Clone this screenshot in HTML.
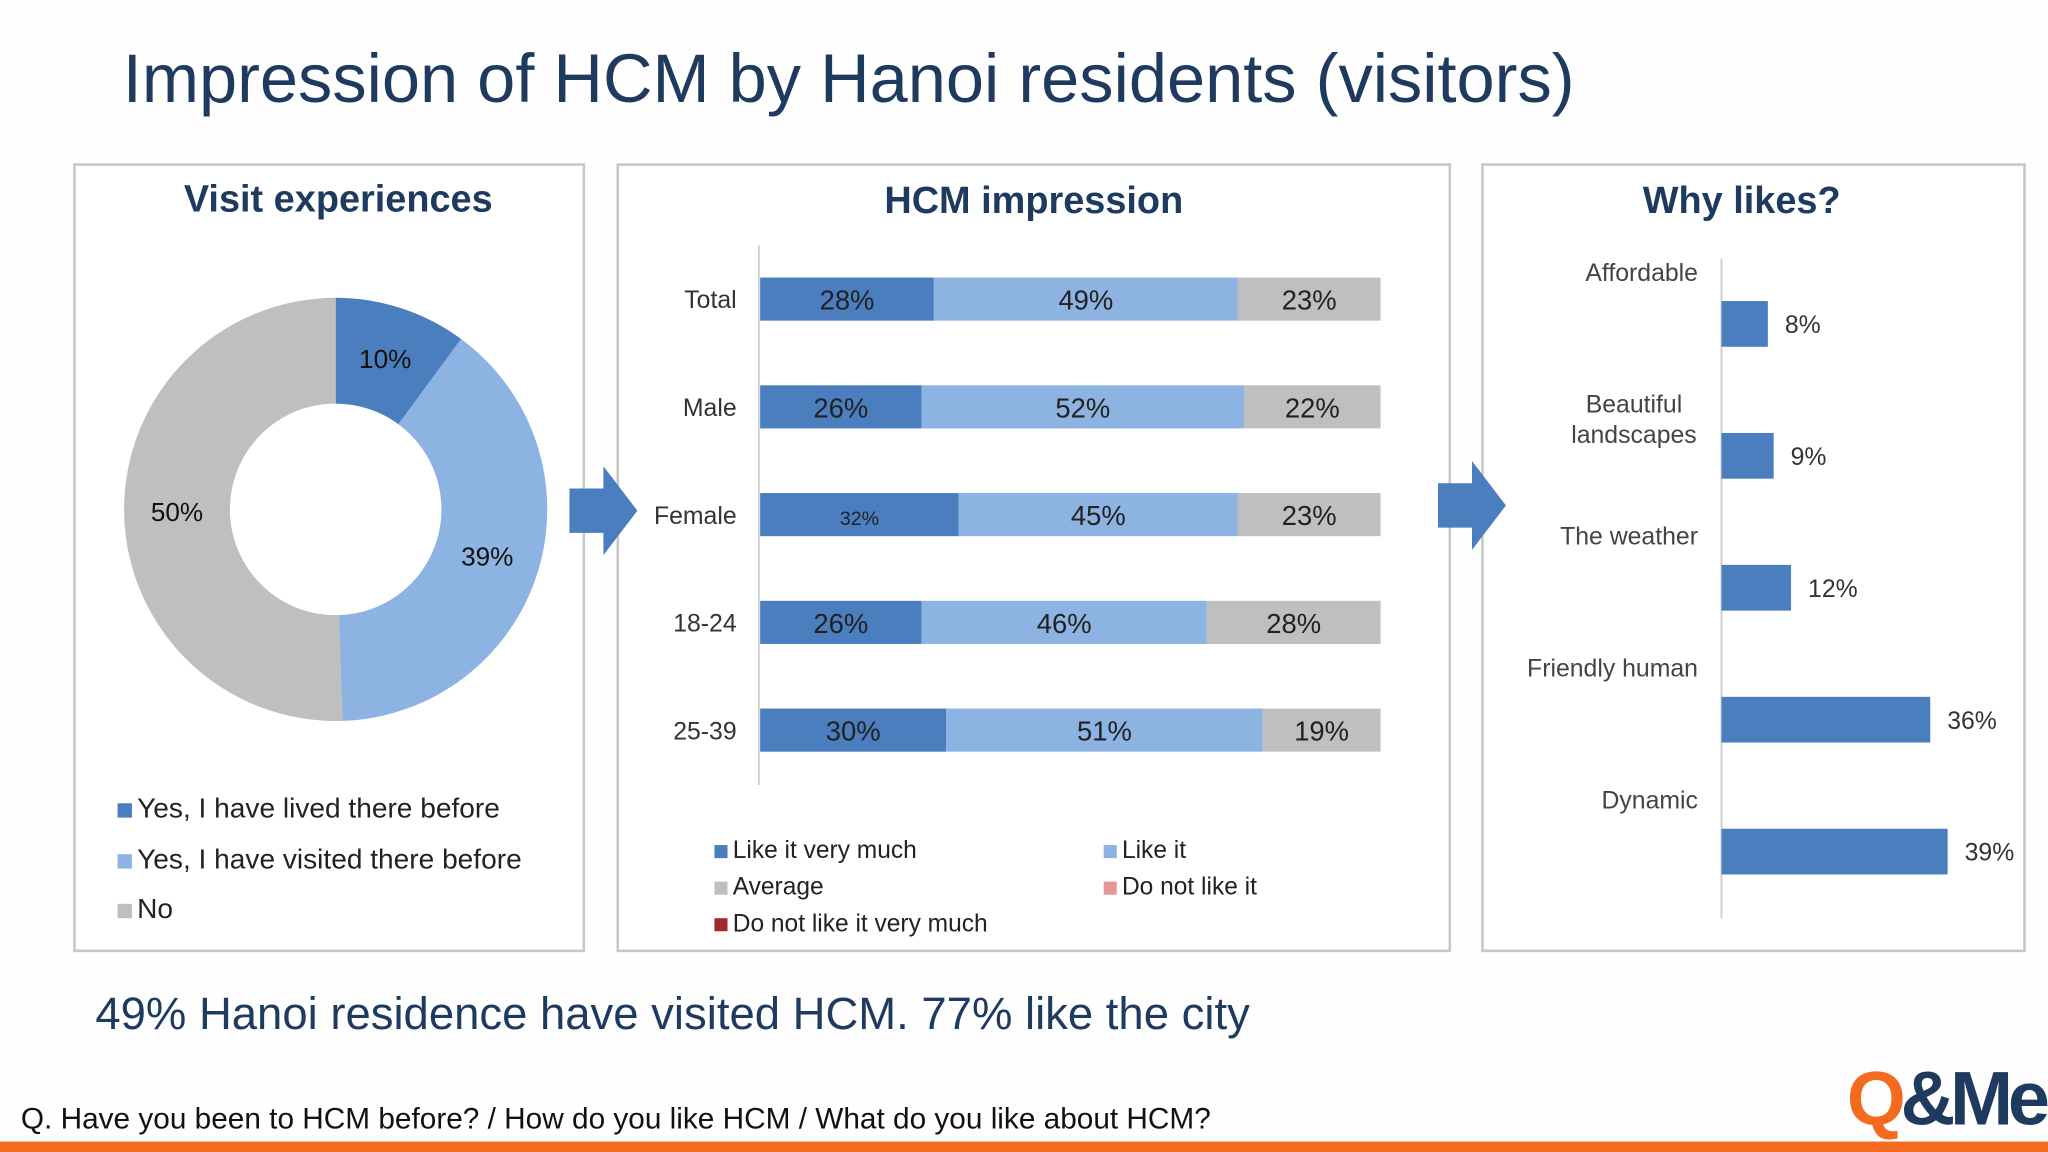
<!DOCTYPE html>
<html><head><meta charset="utf-8"><style>
body{margin:0;width:2048px;height:1152px;overflow:hidden;background:#fff;}
#s{position:absolute;left:0;top:0;width:1568px;height:882px;transform:scale(1.306122);transform-origin:0 0;font-family:"Liberation Sans",sans-serif;background:#fefefe;}
.abs{position:absolute;}
.panel{position:absolute;border:2px solid #c8c8c8;box-sizing:border-box;background:#fff;}
.pt{position:absolute;left:0;right:0;text-align:center;font-weight:bold;font-size:29px;color:#1f3a5f;}
</style></head><body><div id="s">
<div class="abs" style="left:94px;top:30px;font-size:52.5px;color:#1f3a5f;">Impression of HCM by Hanoi residents (visitors)</div>

<div class="panel" style="left:56px;top:125px;width:392px;height:604px;"><div class="pt" style="top:10px;padding-left:14px">Visit experiences</div></div>
<div class="panel" style="left:472px;top:125px;width:639px;height:604px;"><div class="pt" style="top:11px">HCM impression</div></div>
<div class="panel" style="left:1134px;top:125px;width:417px;height:604px;"><div class="pt" style="top:11px;padding-right:18px">Why likes?</div></div>

<svg class="abs" style="left:0;top:0" width="1568" height="882" id="svg">
<polygon points="436,374 462,374 462,357 488,391 462,425 462,408 436,408" fill="#4a7ebf"/>
<polygon points="1101,370 1127,370 1127,353 1153,387 1127,421 1127,404 1101,404" fill="#4a7ebf"/>
<g id="donut"></g><g id="bars"></g><g id="likes"></g>
</svg>

<div class="abs" style="left:90px;top:600px;font-size:21.5px;color:#222;line-height:38.5px;">
<div><span style="display:inline-block;width:11px;height:11px;background:#4a7ebf;margin-right:4px"></span>Yes, I have lived there before</div>
<div><span style="display:inline-block;width:11px;height:11px;background:#8db3e2;margin-right:4px"></span>Yes, I have visited there before</div>
<div><span style="display:inline-block;width:11px;height:11px;background:#bfbfbf;margin-right:4px"></span>No</div>
</div>
<div class="abs" style="left:547px;top:637px;font-size:18.8px;color:#222;line-height:28px;width:500px;">
<div style="position:absolute;left:0;top:0"><span style="display:inline-block;width:10px;height:10px;background:#4a7ebf;margin-right:4px"></span>Like it very much</div>
<div style="position:absolute;left:298px;top:0"><span style="display:inline-block;width:10px;height:10px;background:#8db3e2;margin-right:4px"></span>Like it</div>
<div style="position:absolute;left:0;top:28px"><span style="display:inline-block;width:10px;height:10px;background:#bfbfbf;margin-right:4px"></span>Average</div>
<div style="position:absolute;left:298px;top:28px"><span style="display:inline-block;width:10px;height:10px;background:#e6959a;margin-right:4px"></span>Do not like it</div>
<div style="position:absolute;left:0;top:56px;white-space:nowrap"><span style="display:inline-block;width:10px;height:10px;background:#a0282d;margin-right:4px"></span>Do not like it very much</div>
</div>

<div class="abs" style="left:73px;top:757px;font-size:34.8px;color:#1f3a5f;">49% Hanoi residence have visited HCM. 77% like the city</div>
<div class="abs" style="left:16px;top:843px;font-size:22.8px;color:#111;white-space:nowrap;">Q. Have you been to HCM before? / How do you like HCM / What do you like about HCM?</div>
<div class="abs" style="left:1414px;top:808px;font-size:58px;font-weight:bold;letter-spacing:-4px;white-space:nowrap;"><span style="color:#f26b21">Q</span><span style="color:#1f3a5f">&amp;Me</span></div>
<div class="abs" style="left:0;top:874px;width:1568px;height:8px;background:#f26b21;"></div>
</div>
<script>
const donutLabels=["Yes, lived","Yes, visited","No"];
const donutValues=[10,39,50];
const donutColors=["#4a7ebf","#8db3e2","#bfbfbf"];
const barCats=["Total","Male","Female","18-24","25-39"];
const likeVery=[28,26,32,26,30];
const likeIt=[49,52,45,46,51];
const average=[23,22,23,28,19];
const likeCats=["Affordable","Beautiful\nlandscapes","The weather","Friendly human","Dynamic"];
const likeVals=[8,9,12,36,39];
const NS="http://www.w3.org/2000/svg";
function mk(p,t,a){const e=document.createElementNS(NS,t);for(const k in a)e.setAttribute(k,a[k]);p.appendChild(e);return e;}
const dg=document.getElementById('donut');const cx=257,cy=390,R=162,r=81;
const tot=donutValues.reduce((a,b)=>a+b,0);let ang=0;
donutValues.forEach((v,i)=>{const a0=ang,a1=ang+v/tot*2*Math.PI;ang=a1;
 const P=(rr,a)=>[cx+rr*Math.sin(a),cy-rr*Math.cos(a)];const lg=(a1-a0)>Math.PI?1:0;
 const [x0,y0]=P(R,a0),[x1,y1]=P(R,a1),[x2,y2]=P(r,a1),[x3,y3]=P(r,a0);
 const p=mk(dg,'path',{d:`M${x0},${y0}A${R},${R} 0 ${lg} 1 ${x1},${y1}L${x2},${y2}A${r},${r} 0 ${lg} 0 ${x3},${y3}Z`,fill:donutColors[i]});
 
 
 const am=(a0+a1)/2;const [lx,ly]=P(R*0.75,am);
 const t=mk(dg,'text',{x:lx,y:ly+7,'text-anchor':'middle','font-size':20,fill:'#111'});t.textContent=v+'%';
 
 
});
const bg=document.getElementById('bars');const bx0=582,bw=475,by0=229,bstep=82.5,bh=33;
const xb=v=>v/100*bw;
mk(bg,'line',{x1:581,y1:188,x2:581,y2:601,stroke:'#d0d0d0','stroke-width':1.5});
barCats.forEach((c,i)=>{const yc=by0+i*bstep;let x=bx0;
 const t=mk(bg,'text',{x:564,y:yc+7,'text-anchor':'end','font-size':19,fill:'#333'});t.textContent=c;
 
 
 [[likeVery,'#4a7ebf'],[likeIt,'#8db3e2'],[average,'#bfbfbf']].forEach(([arr,col])=>{const w=xb(arr[i]);
  const b=mk(bg,'rect',{x:x,y:yc-bh/2,width:w,height:bh,fill:col});
  
  
  const l=mk(bg,'text',{x:x+w/2,y:yc+8,'text-anchor':'middle','font-size':(i==2&&col=='#4a7ebf')?15:21,fill:'#222'});l.textContent=arr[i]+'%';
  
  
  x+=w;});
});
const lg2=document.getElementById('likes');const lx0=1318,lpp=4.44,ly0=248,lstep=101,lh=35;
mk(lg2,'line',{x1:1318,y1:198,x2:1318,y2:703,stroke:'#d0d0d0','stroke-width':1.5});
likeCats.forEach((c,i)=>{const yc=ly0+i*lstep;const w=likeVals[i]*lpp;
 const b=mk(lg2,'rect',{x:lx0,y:yc-lh/2,width:w,height:lh,fill:'#4a7ebf'});
 
 
 const v=mk(lg2,'text',{x:lx0+w+13,y:yc+7,'font-size':19,fill:'#333'});v.textContent=likeVals[i]+'%';
 
 
 const lines=c.split('\n');
 lines.forEach((ln,j)=>{const multi=lines.length>1;
  const t=mk(lg2,'text',{x:multi?1251:1300,y:yc-33+j*23,'text-anchor':multi?'middle':'end','font-size':19,fill:'#444'});t.textContent=ln;
  
  });
});
</script>
</body></html>
